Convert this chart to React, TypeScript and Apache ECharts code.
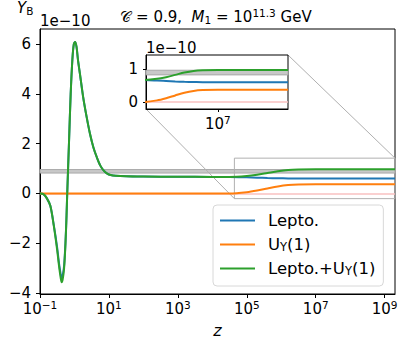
import React, { useEffect, useRef } from "react";
import * as echarts from "echarts";

// log10(z) sample positions
const logZ = [-1, -0.9, -0.8, -0.7, -0.6, -0.5, -0.45, -0.4, -0.37, -0.34, -0.3, -0.26, -0.23, -0.21, -0.16, -0.11, -0.06, -0.02, 0.02, 0.06, 0.1, 0.16, 0.25, 0.35, 0.45, 0.55, 0.65, 0.75, 0.85, 0.95, 1.05, 1.2, 1.5, 2, 3, 4, 4.5, 5, 5.3, 5.6, 5.9, 6.2, 6.5, 7, 8, 9.3];
// Y_B in units of 1e-10
const leptoValues = [0, -0.03, -0.2, -0.5, -1.28, -2.2, -2.8, -3.25, -3.42, -3.3, -2.9, -1.95, -0.88, 0, 2.0, 4.0, 5.4, 6.0, 6.1, 5.9, 5.4, 4.8, 3.9, 3.1, 2.4, 1.85, 1.45, 1.12, 0.92, 0.8, 0.74, 0.71, 0.69, 0.68, 0.67, 0.665, 0.665, 0.65, 0.635, 0.62, 0.61, 0.605, 0.6, 0.6, 0.6, 0.6];
const uyValues = [0, 0, 0, 0, 0, 0, 0, 0, 0, 0, 0, 0, 0, 0, 0, 0, 0, 0, 0, 0, 0, 0, 0, 0, 0, 0, 0, 0, 0, 0, 0, 0, 0, 0, 0, 0, 0, 0.05, 0.115, 0.2, 0.28, 0.335, 0.36, 0.37, 0.37, 0.37];
const totalValues = [0, -0.03, -0.2, -0.5, -1.3, -2.3, -2.9, -3.4, -3.58, -3.45, -3.0, -2.0, -0.9, 0, 2.0, 4.0, 5.4, 6.0, 6.1, 5.9, 5.4, 4.8, 3.9, 3.1, 2.4, 1.85, 1.45, 1.12, 0.92, 0.8, 0.74, 0.71, 0.69, 0.68, 0.67, 0.665, 0.665, 0.7, 0.75, 0.82, 0.89, 0.94, 0.96, 0.97, 0.97, 0.97];

const seriesNames = ["Lepto.", "U_Y(1)", "Lepto.+U_Y(1)"];
const seriesColors = ["#1f77b4", "#ff7f0e", "#2ca02c"];
const xTicks = [-1, 1, 3, 5, 7, 9];
const yTicks = [-4, -2, 0, 2, 4, 6];
const insetXTicks = [7];
const insetYTicks = [0, 1];
const xRange = [-1, 9.3];
const yRange = [-4.05, 6.62];
const zoomX = [4.64, 9.3];
const zoomY = [-0.21, 1.42];
const observedBand = [0.82, 0.96];

const FONT = "DejaVu Sans";

const pairs = (ys: number[]) => logZ.map((x, i) => [x, ys[i]]);
const minus = (v: number) => (v < 0 ? "\u2212" + Math.abs(v) : String(v));
const powLabel = (v: number) => `{b|10}{s|${minus(v)}}`;

const supRich = {
  b: { fontSize: 15, fontFamily: FONT, color: "#000", fill: "#000" },
  s: { fontSize: 10.5, fontFamily: FONT, color: "#000", fill: "#000", padding: [0, 0, 9, 0] },
};

const legendName = (n: string) => {
  if (n === "U_Y(1)") return "{a|U}{s|Y}{n|(1)}";
  if (n === "Lepto.+U_Y(1)") return "{a|Lepto.+U}{s|Y}{n|(1)}";
  return `{a|${n}}`;
};

export default function App() {
  const ref = useRef<HTMLDivElement>(null);
  useEffect(() => {
    if (!ref.current) return;
    const chart = echarts.init(ref.current, null, { renderer: "svg" });
    const lineSeries = (gridIdx: number, zBase: number, extra: any) =>
      [leptoValues, uyValues, totalValues].map((vals, i) => ({
        name: seriesNames[i],
        type: "line",
        xAxisIndex: gridIdx,
        yAxisIndex: gridIdx,
        data: pairs(vals),
        showSymbol: false,
        smooth: 0.3,
        clip: true,
        color: seriesColors[i],
        lineStyle: { width: 2, color: seriesColors[i] },
        z: zBase + i,
        silent: true,
        ...(i === 0 ? extra.blue : {}),
        ...(i === 1 ? extra.orange : {}),
      }));

    const bandItem = [
      { yAxis: observedBand[0], itemStyle: { color: "#c8c8c8", borderColor: "#a8a8a8", borderWidth: 1 } },
      { yAxis: observedBand[1] },
    ];
    const zeroMark = (z: number) => ({
      markLine: {
        silent: true,
        symbol: "none",
        z,
        label: { show: false },
        lineStyle: { color: "#f9c0c0", width: 1.5, type: "solid" },
        data: [{ yAxis: 0 }],
      },
    });

    const option: any = {
      animation: false,
      backgroundColor: "#fff",
      textStyle: { fontFamily: FONT },
      grid: [
        { left: 40, top: 29, width: 355, height: 265, show: true, borderColor: "#000", borderWidth: 1, backgroundColor: "transparent" },
        { left: 146, top: 55, width: 142, height: 54, show: true, borderColor: "#000", borderWidth: 1, backgroundColor: "#fff", z: 5 },
      ],
      xAxis: [
        {
          type: "value", gridIndex: 0, min: xRange[0], max: xRange[1],
          axisLine: { onZero: false, lineStyle: { color: "#000" } },
          axisTick: { show: true, length: 4, customValues: xTicks, lineStyle: { color: "#000" } },
          axisLabel: { customValues: xTicks, formatter: powLabel, rich: supRich, margin: 5, color: "#000" },
          splitLine: { show: false },
          name: "z", nameLocation: "middle", nameGap: 28,
          nameTextStyle: { fontFamily: FONT, fontSize: 16, fontStyle: "italic", color: "#000" },
        },
        {
          type: "value", gridIndex: 1, min: zoomX[0], max: zoomX[1], z: 8,
          axisLine: { onZero: false, lineStyle: { color: "#000" } },
          axisTick: { show: true, length: 3, customValues: insetXTicks, lineStyle: { color: "#000" } },
          axisLabel: { customValues: insetXTicks, formatter: powLabel, rich: supRich, margin: 5, color: "#000" },
          splitLine: { show: false },
        },
      ],
      yAxis: [
        {
          type: "value", gridIndex: 0, min: yRange[0], max: yRange[1],
          axisLine: { onZero: false, lineStyle: { color: "#000" } },
          axisTick: { show: true, length: 4, customValues: yTicks, lineStyle: { color: "#000" } },
          axisLabel: { customValues: yTicks, formatter: minus, fontSize: 15, fontFamily: FONT, color: "#000", margin: 9 },
          splitLine: { show: false },
        },
        {
          type: "value", gridIndex: 1, min: zoomY[0], max: zoomY[1], z: 8,
          axisLine: { onZero: false, lineStyle: { color: "#000" } },
          axisTick: { show: true, length: 3, customValues: insetYTicks, lineStyle: { color: "#000" } },
          axisLabel: { customValues: insetYTicks, formatter: minus, fontSize: 15, fontFamily: FONT, color: "#000", margin: 8 },
          splitLine: { show: false },
        },
      ],
      legend: {
        data: seriesNames,
        orient: "vertical",
        left: 213,
        top: 205,
        icon: "rect",
        itemWidth: 35,
        itemHeight: 2,
        itemGap: 5,
        padding: [6, 8, 8, 7],
        borderColor: "#d8d8d8",
        borderWidth: 1,
        borderRadius: 4,
        backgroundColor: "rgba(255,255,255,0.85)",
        formatter: legendName,
        textStyle: {
          fontFamily: FONT, fontSize: 16.5, color: "#000", lineHeight: 19,
          rich: {
            a: { fontSize: 16.5, fontFamily: FONT, color: "#000", padding: [0, 0, 0, 8] },
            n: { fontSize: 16.5, fontFamily: FONT, color: "#000" },
            s: { fontSize: 11.5, fontFamily: FONT, color: "#000", padding: [5, 0, 0, 0] },
          },
        },
      },
      series: [
        ...lineSeries(0, 2, {
          blue: {
            markArea: {
              silent: true,
              z: 1,
              data: [
                bandItem,
                [
                  { coord: [zoomX[0], zoomY[1]], itemStyle: { color: "rgba(0,0,0,0)", borderColor: "#b0b0b0", borderWidth: 1 } },
                  { coord: [zoomX[1], zoomY[0]] },
                ],
              ],
            },
          },
          orange: zeroMark(1),
        }),
        ...lineSeries(1, 12, {
          blue: { markArea: { silent: true, z: 10, data: [bandItem] } },
          orange: zeroMark(10),
        }),
      ],
    };
    chart.setOption(option);

    const a1 = chart.convertToPixel({ xAxisIndex: 1, yAxisIndex: 1 }, [zoomX[0], zoomY[0]]) as number[];
    const b1 = chart.convertToPixel({ xAxisIndex: 0, yAxisIndex: 0 }, [zoomX[0], zoomY[0]]) as number[];
    const a2 = chart.convertToPixel({ xAxisIndex: 1, yAxisIndex: 1 }, [zoomX[1], zoomY[1]]) as number[];
    const b2 = chart.convertToPixel({ xAxisIndex: 0, yAxisIndex: 0 }, [zoomX[1], zoomY[1]]) as number[];

    chart.setOption({
      graphic: [
        { type: "line", z: 3, silent: true, shape: { x1: a1[0], y1: a1[1], x2: b1[0], y2: b1[1] }, style: { stroke: "#b0b0b0", lineWidth: 1 } },
        { type: "line", z: 3, silent: true, shape: { x1: a2[0], y1: a2[1], x2: b2[0], y2: b2[1] }, style: { stroke: "#b0b0b0", lineWidth: 1 } },
        {
          type: "text", left: 17, top: 0, z: 10,
          style: {
            text: "{y|Y}{b|B}",
            rich: {
              y: { fontSize: 15, fontFamily: FONT, fontStyle: "italic", fill: "#000" },
              b: { fontSize: 10.5, fontFamily: FONT, fill: "#000", padding: [6, 0, 0, 0] },
            },
          },
        },
        {
          type: "text", x: 40, y: 21, z: 10,
          style: { text: "1e\u221210", fontSize: 15, fontFamily: FONT, fill: "#000", textVerticalAlign: "middle" },
        },
        {
          type: "text", x: 146, y: 48, z: 10,
          style: { text: "1e\u221210", fontSize: 15, fontFamily: FONT, fill: "#000", textVerticalAlign: "middle" },
        },
        {
          type: "text", x: 216, y: 17, z: 10,
          style: {
            text: "{c|\uD835\uDC9E}{n| = 0.9,  }{m|M}{sub|1}{n| = 10}{sup|11.3}{n| GeV}",
            textAlign: "center",
            textVerticalAlign: "middle",
            rich: {
              c: { fontSize: 15, fontFamily: FONT, fill: "#000" },
              n: { fontSize: 15, fontFamily: FONT, fill: "#000" },
              m: { fontSize: 15, fontFamily: FONT, fontStyle: "italic", fill: "#000" },
              sub: { fontSize: 10.5, fontFamily: FONT, fill: "#000", padding: [6, 0, 0, 0] },
              sup: { fontSize: 10.5, fontFamily: FONT, fill: "#000", padding: [0, 0, 8, 0] },
            },
          },
        },
      ],
    });

    return () => chart.dispose();
  }, []);
  return <div ref={ref} style={{ position: "fixed", left: 0, top: 0, width: 407, height: 346 }} />;
}
